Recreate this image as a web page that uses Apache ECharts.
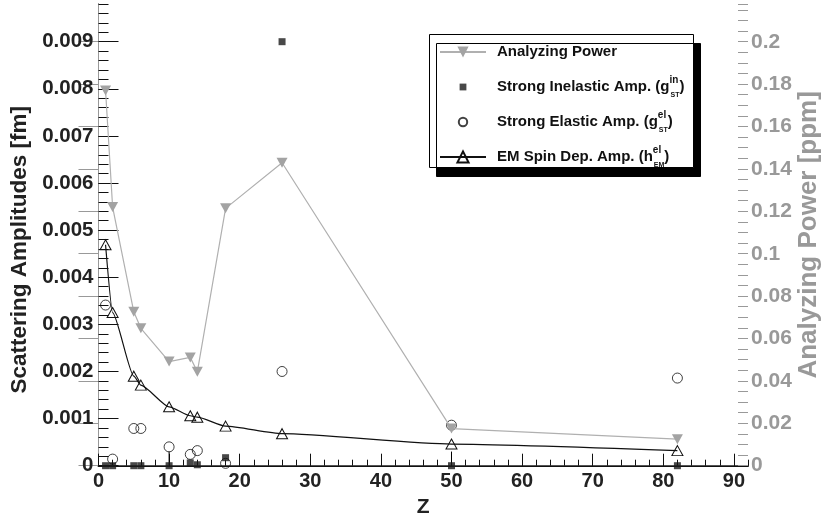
<!DOCTYPE html>
<html><head><meta charset="utf-8">
<script src="https://cdn.jsdelivr.net/npm/echarts@6/dist/echarts.min.js"></script>
<style>html,body{margin:0;padding:0;background:#fff}#c{width:824px;height:518px}</style>
</head><body><div id="c"></div>
<script>
// ---- data ----
const Z = [1, 2, 5, 6, 10, 13, 14, 18, 26, 50, 82];
const analyzingPower = [0.177, 0.122, 0.0726, 0.0648, 0.0491, 0.0511, 0.0443, 0.1214, 0.1429, 0.0175, 0.0125];
const strongInelastic = [0, 0, 0, 0, 0, 0.00006, 0.00002, 0.00017, 0.009, 0, 0];
const strongInelasticErr = [0, 0, 0, 0, 0.0003, 0, 0, 0, 0, 0.0003, 0];
const strongElastic = [0.00341, 0.00014, 0.00079, 0.00079, 0.0004, 0.00024, 0.00032, 0.00005, 0.002, 0.00086, 0.00186];
const emSpin = [0.00469, 0.00325, 0.0019, 0.00171, 0.00125, 0.00106, 0.00103, 0.00084, 0.00068, 0.00046, 0.00032];

const xRange = [0, 92], xStep = 10, xMinor = 2;
const yLeftRange = [0, 0.0098], yLeftStep = 0.001, yLeftMinor = 0.0002;
const yRightRange = [0, 0.2178], yRightStep = 0.02, yRightMinor = 0.005;

const names = ['Analyzing Power', 'Strong Inelastic Amp.', 'Strong Elastic Amp.', 'EM Spin Dep. Amp.'];
const legendText = {
  'Analyzing Power': '{t|Analyzing Power}{sup| }{sub| }',
  'Strong Inelastic Amp.': '{t|Strong Inelastic Amp. (g}{sup|in}{sub|ST}{t|)}',
  'Strong Elastic Amp.': '{t|Strong Elastic Amp. (g}{sup|el}{sub|ST}{t|)}',
  'EM Spin Dep. Amp.': '{t|EM Spin Dep. Amp. (h}{sup|el}{sub|EM}{t|)}'
};

const FONT = '"Liberation Sans", Arial, Helvetica, sans-serif';
const pairs = arr => Z.map((z, i) => [z, arr[i]]);

const richStyles = {
  t: { fontSize: 15, fontWeight: 'bold', fontFamily: FONT, color: '#111', lineHeight: 24 },
  sup: { fontSize: 10, fontWeight: 'bold', fontFamily: FONT, color: '#111', lineHeight: 14, verticalAlign: 'top', width: 1 },
  sub: { fontSize: 7, fontWeight: 'bold', fontFamily: FONT, color: '#111', lineHeight: 6, verticalAlign: 'bottom' }
};
// legend icons for the marker-only entries (the leading moves pad the icon box)
const squareIcon = 'path://M0,0M14,14M3.6,3.6h6.8v6.8h-6.8z';
const circleIcon = 'path://M0,0M14,14M11.2,7A4.2,4.2,0,1,1,2.8,7A4.2,4.2,0,1,1,11.2,7z';

const chart = echarts.init(document.getElementById('c'), null, { renderer: 'canvas' });
chart.setOption({
  animation: false,
  backgroundColor: '#fff',
  textStyle: { fontFamily: FONT },
  grid: { left: 98.5, right: 76, top: 4, bottom: 52.3, containLabel: false, outerBoundsMode: 'none' },
  graphic: [{
    type: 'rect', left: 429, top: 34, z: 3, silent: true,
    shape: { width: 264, height: 133 },
    style: { fill: '#fff', stroke: '#000', lineWidth: 1, shadowColor: '#000', shadowBlur: 0, shadowOffsetX: 7, shadowOffsetY: 9 }
  }],
  legend: {
    orient: 'vertical', left: 429, top: 34, padding: [6, 0, 0, 10], itemGap: 11,
    itemWidth: 46, itemHeight: 14, selectedMode: false, z: 5,
    data: [
      { name: names[0] },
      { name: names[1], icon: squareIcon },
      { name: names[2], icon: circleIcon },
      { name: names[3] }
    ],
    formatter: n => legendText[n],
    textStyle: { fontFamily: FONT, fontSize: 15, fontWeight: 'bold', color: '#111', padding: [0, 0, 0, 6], rich: richStyles }
  },
  xAxis: [
    { type: 'value', min: xRange[0], max: xRange[1], interval: xStep, position: 'bottom',
      name: 'Z', nameLocation: 'middle', nameGap: 31,
      nameTextStyle: { fontSize: 21, fontWeight: 'bold', color: '#222', fontFamily: FONT },
      axisLine: { show: true, lineStyle: { color: '#111', width: 2 } },
      axisTick: { show: true, inside: true, length: 12, lineStyle: { color: '#111' } },
      axisLabel: { fontSize: 20, fontWeight: 'bold', color: '#222', margin: 6, showMaxLabel: false, fontFamily: FONT },
      splitLine: { show: false } },
    { type: 'value', min: xRange[0], max: xRange[1], interval: xMinor, position: 'bottom',
      axisLine: { show: false }, axisLabel: { show: false }, splitLine: { show: false },
      axisTick: { show: true, inside: true, length: 6, lineStyle: { color: '#111' } } },
    { type: 'value', min: xRange[0], max: xRange[1], position: 'top',
      axisLine: { show: true, lineStyle: { color: '#555', width: 1 } },
      axisTick: { show: false }, axisLabel: { show: false }, splitLine: { show: false } }
  ],
  yAxis: [
    { type: 'value', min: yLeftRange[0], max: yLeftRange[1], interval: yLeftStep, position: 'left',
      name: 'Scattering Amplitudes [fm]', nameLocation: 'middle', nameGap: 64, nameRotate: 90,
      nameTextStyle: { fontSize: 22.5, fontWeight: 'bold', color: '#222', fontFamily: FONT, padding: [0, 30, 0, 0] },
      axisLine: { show: true, lineStyle: { color: '#111', width: 1 } },
      axisTick: { show: true, inside: true, length: 20, lineStyle: { color: '#111' } },
      axisLabel: { fontSize: 20.5, fontWeight: 'bold', color: '#222', margin: 5, showMaxLabel: false, fontFamily: FONT },
      splitLine: { show: false } },
    { type: 'value', min: yRightRange[0], max: yRightRange[1], interval: yRightStep, position: 'right',
      name: 'Analyzing Power [ppm]', nameLocation: 'middle', nameGap: 48, nameRotate: 90, nameMoveOverlap: false,
      nameTextStyle: { fontSize: 26, fontWeight: 'bold', color: '#999', fontFamily: FONT },
      axisLine: { show: true, lineStyle: { color: '#999', width: 1 } },
      axisTick: { show: true, inside: true, length: 20, lineStyle: { color: '#999' } },
      axisLabel: { fontSize: 21, fontWeight: 'bold', color: '#999', margin: 3, showMaxLabel: false, fontFamily: FONT },
      splitLine: { show: false } },
    { type: 'value', min: yLeftRange[0], max: yLeftRange[1], interval: yLeftMinor, position: 'left',
      axisLine: { show: false }, axisLabel: { show: false }, splitLine: { show: false },
      axisTick: { show: true, inside: true, length: 10, lineStyle: { color: '#111' } } },
    { type: 'value', min: yRightRange[0], max: yRightRange[1], interval: yRightMinor, position: 'right',
      axisLine: { show: false }, axisLabel: { show: false }, splitLine: { show: false },
      axisTick: { show: true, inside: true, length: 10, lineStyle: { color: '#999' } } }
  ],
  series: [
    { name: 'errors', type: 'custom', xAxisIndex: 0, yAxisIndex: 0, z: 1,
      data: Z.map((z, i) => [z, strongInelastic[i], strongInelastic[i] + strongInelasticErr[i]]).filter((d, i) => strongInelasticErr[i] > 0),
      renderItem: (params, api) => {
        const p0 = api.coord([api.value(0), api.value(1)]);
        const p1 = api.coord([api.value(0), api.value(2)]);
        return { type: 'line', shape: { x1: p0[0], y1: p0[1], x2: p1[0], y2: p1[1] }, style: { stroke: '#000', lineWidth: 1 } };
      } },
    { name: names[0], type: 'line', xAxisIndex: 0, yAxisIndex: 1, data: pairs(analyzingPower),
      symbol: 'triangle', symbolRotate: 180, symbolSize: [11, 10],
      itemStyle: { color: '#a3a3a3' }, lineStyle: { color: '#b0b0b0', width: 1.2 } },
    { name: names[1], type: 'scatter', xAxisIndex: 0, yAxisIndex: 0, data: pairs(strongInelastic),
      symbol: 'rect', symbolSize: 7, itemStyle: { color: '#1a1a1a' } },
    { name: names[2], type: 'scatter', xAxisIndex: 0, yAxisIndex: 0, data: pairs(strongElastic),
      symbol: 'circle', symbolSize: 10, itemStyle: { color: 'rgba(255,255,255,0)', borderColor: '#111', borderWidth: 1 } },
    { name: names[3], type: 'line', xAxisIndex: 0, yAxisIndex: 0, data: pairs(emSpin),
      smooth: 0.2, smoothMonotone: 'x',
      symbol: 'triangle', symbolSize: [11, 10],
      itemStyle: { color: 'rgba(255,255,255,0)', borderColor: '#111', borderWidth: 1 },
      lineStyle: { color: '#111', width: 1.2 } }
  ]
});
</script></body></html>
